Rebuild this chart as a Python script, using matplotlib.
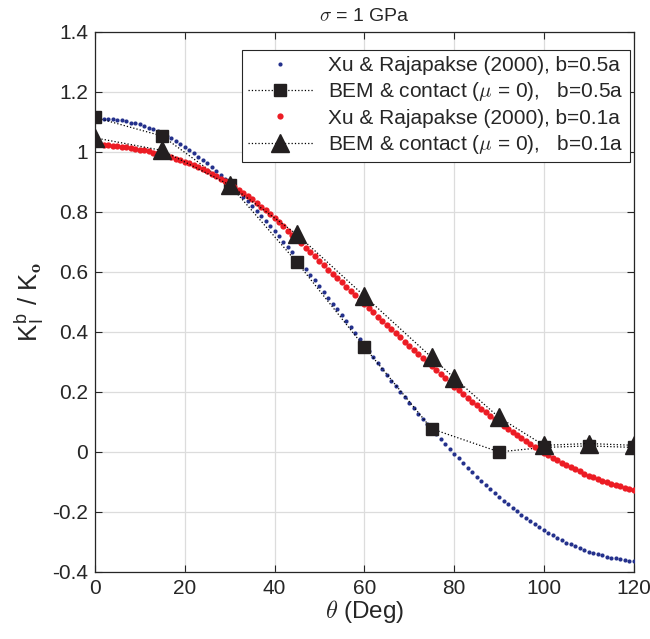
import numpy as np
import matplotlib
matplotlib.use("Agg")
import matplotlib.pyplot as plt

# Xu & Rajapakse (2000) curves, theta = 0..120 deg step 1
theta_curve = list(range(0, 121))
xu_b05 = [1.113, 1.112, 1.111, 1.110, 1.109,
          1.108, 1.105, 1.102, 1.098, 1.095,
          1.092, 1.086, 1.080, 1.075, 1.069,
          1.063, 1.054, 1.045, 1.036, 1.027,
          1.018, 1.007, 0.996, 0.984, 0.973,
          0.962, 0.949, 0.936, 0.922, 0.909,
          0.896, 0.881, 0.866, 0.850, 0.835,
          0.820, 0.803, 0.787, 0.770, 0.754,
          0.737, 0.719, 0.701, 0.684, 0.666,
          0.648, 0.629, 0.610, 0.591, 0.572,
          0.553, 0.533, 0.514, 0.494, 0.475,
          0.455, 0.435, 0.415, 0.395, 0.375,
          0.355, 0.335, 0.315, 0.296, 0.276,
          0.256, 0.237, 0.219, 0.200, 0.182,
          0.163, 0.145, 0.128, 0.110, 0.093,
          0.075, 0.059, 0.043, 0.026, 0.010,
          -0.006, -0.021, -0.036, -0.052, -0.067,
          -0.082, -0.096, -0.109, -0.123, -0.136,
          -0.150, -0.162, -0.174, -0.186, -0.198,
          -0.210, -0.220, -0.230, -0.241, -0.251,
          -0.261, -0.269, -0.277, -0.286, -0.294,
          -0.302, -0.308, -0.314, -0.321, -0.327,
          -0.333, -0.337, -0.341, -0.345, -0.349,
          -0.353, -0.355, -0.357, -0.360, -0.362,
          -0.364]
xu_b01 = [1.027, 1.026, 1.024, 1.023, 1.021,
          1.020, 1.018, 1.015, 1.013, 1.010,
          1.008, 1.005, 1.002, 0.998, 0.995,
          0.992, 0.987, 0.983, 0.978, 0.973,
          0.968, 0.962, 0.955, 0.949, 0.942,
          0.936, 0.928, 0.920, 0.911, 0.903,
          0.895, 0.884, 0.874, 0.863, 0.853,
          0.842, 0.830, 0.817, 0.805, 0.792,
          0.780, 0.766, 0.752, 0.738, 0.724,
          0.710, 0.695, 0.681, 0.666, 0.652,
          0.637, 0.623, 0.608, 0.594, 0.579,
          0.565, 0.551, 0.536, 0.522, 0.507,
          0.493, 0.479, 0.465, 0.451, 0.437,
          0.423, 0.409, 0.395, 0.382, 0.368,
          0.354, 0.340, 0.327, 0.313, 0.300,
          0.286, 0.272, 0.259, 0.245, 0.232,
          0.218, 0.205, 0.193, 0.180, 0.168,
          0.155, 0.144, 0.132, 0.121, 0.109,
          0.098, 0.088, 0.077, 0.067, 0.056,
          0.046, 0.036, 0.027, 0.017, 0.008,
          -0.002, -0.010, -0.019, -0.027, -0.036,
          -0.044, -0.051, -0.058, -0.065, -0.072,
          -0.079, -0.085, -0.090, -0.096, -0.101,
          -0.107, -0.111, -0.115, -0.119, -0.123,
          -0.127]

# BEM & contact results
theta_bem_b05 = [0, 15, 30, 45, 60, 75, 90, 100, 110, 120]
bem_b05 = [1.115, 1.053, 0.89, 0.632, 0.35, 0.077, 0.0, 0.015, 0.02, 0.015]
theta_bem_b01 = [0, 15, 30, 45, 60, 75, 80, 90, 100, 110, 120]
bem_b01 = [1.047, 1.005, 0.89, 0.725, 0.52, 0.315, 0.247, 0.115, 0.022, 0.028, 0.022]

x_ticks = [0, 20, 40, 60, 80, 100, 120]
y_ticks = [-0.4, -0.2, 0, 0.2, 0.4, 0.6, 0.8, 1, 1.2, 1.4]
y_tick_labels = ['-0.4', '-0.2', '0', '0.2', '0.4', '0.6', '0.8', '1', '1.2', '1.4']

plt.rcParams['font.family'] = ['Liberation Sans', 'DejaVu Sans']
plt.rcParams['mathtext.fontset'] = 'cm'

fig = plt.figure(figsize=(6.5, 6.39), dpi=100)
ax = fig.add_axes([0.146, 0.105, 0.829, 0.845])

axcol = '#262626'
blue = '#24318c'
red = '#ec1c24'

ax.plot(theta_curve, xu_b05, linestyle='none', marker='o', markersize=3.0,
        color=blue, markeredgewidth=0, label='Xu & Rajapakse (2000), b=0.5a', zorder=3)
ax.plot(theta_bem_b05, bem_b05, linestyle=':', linewidth=0.9, color='black',
        marker='s', markersize=9, markerfacecolor='#231f20', markeredgecolor='#231f20',
        label=r'BEM & contact ($\mu$ = 0),   b=0.5a', zorder=4)
ax.plot(theta_curve, xu_b01, linestyle='none', marker='o', markersize=4.5,
        color=red, markeredgewidth=0, label='Xu & Rajapakse (2000), b=0.1a', zorder=5)
ax.plot(theta_bem_b01, bem_b01, linestyle=':', linewidth=0.9, color='black',
        marker='^', markersize=13, markerfacecolor='#231f20', markeredgecolor='#231f20',
        label=r'BEM & contact ($\mu$ = 0),   b=0.1a', zorder=6)

ax.set_xlim(0, 120)
ax.set_ylim(-0.4, 1.4)
ax.set_xticks(x_ticks)
ax.set_xticklabels([str(v) for v in x_ticks])
ax.set_yticks(y_ticks)
ax.set_yticklabels(y_tick_labels)
ax.grid(True, color='#dcdcdc', linewidth=0.9)
ax.set_axisbelow(True)
ax.tick_params(direction='in', length=5, width=0.8, colors=axcol, labelsize=15,
               top=True, right=True, pad=5)
for s in ax.spines.values():
    s.set_color(axcol)
    s.set_linewidth(0.9)

ax.set_xlabel(r'$\theta$ (Deg)', fontsize=17.5, color=axcol, labelpad=0)
ax.set_ylabel(r'K$_\mathregular{I}^\mathregular{b}$ / K$_\mathbf{o}$', fontsize=18.5, color=axcol, labelpad=4)
ax.set_title(r'$\sigma$ = 1 GPa', fontsize=14, color=axcol, pad=8)

leg = ax.legend(loc='upper right', bbox_to_anchor=(0.9926, 0.9667), fontsize=15,
                frameon=True, fancybox=False, edgecolor=axcol, framealpha=1,
                borderpad=0.3, labelspacing=0.25, handlelength=3.1,
                handletextpad=0.75, borderaxespad=0)
leg.get_frame().set_linewidth(0.8)
for t in leg.get_texts():
    t.set_color(axcol)

fig.savefig('out.png', dpi=100)
